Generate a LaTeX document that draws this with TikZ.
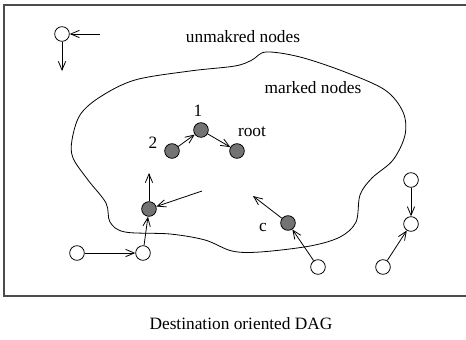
\documentclass[tikz,border=0pt]{standalone}
\usepackage{fontspec}
\setmainfont{Liberation Serif}
\usepackage{tikz}
\usetikzlibrary{arrows.meta}

\begin{document}
\begin{tikzpicture}[x=0.75pt, y=-0.75pt, line width=0.6pt,
	every node/.style={font=\fontsize{13}{15}\selectfont},
	wnode/.style={circle, draw, fill=white, inner sep=0pt, minimum size=11pt},
	gnode/.style={circle, draw, fill=black!55, inner sep=0pt, minimum size=11pt},
	arr/.style={-{Straight Barb[length=6.5pt, width=5.5pt]}}]
	\useasboundingbox (0,0) rectangle (466,339);
	\draw[line width=1.1pt, black!70] (4,5) rectangle (472,296);
	% region of marked nodes
	\draw plot[smooth cycle, tension=0.55] coordinates {(72,140) (80,115) (100,97) (135,80) (190,71) (235,66) (252,60) (266,52) (300,57) (345,72) (385,90) (403,112) (405,135) (393,160) (372,178) (360,195) (356,222) (340,237) (310,246) (260,252) (232,251) (205,240) (170,234) (125,232) (110,222) (106,203) (88,180) (73,158)};
	\node (unmarked) at (243,37) {unmakred nodes};
	\node (marked) at (313,88) {marked nodes};
	% nodes
	\node[wnode] (t) at (62,34) {};
	\node[gnode] (n1) at (201,130) {};
	\node[gnode] (n2) at (172,151) {};
	\node[gnode] (root) at (237,151) {};
	\node[gnode] (g) at (149,209) {};
	\node[gnode] (c) at (288,223) {};
	\node[wnode] (w1) at (77,253) {};
	\node[wnode] (w2) at (143,253) {};
	\node[wnode] (w3) at (318,267) {};
	\node[wnode] (w4) at (383,267) {};
	\node[wnode] (w5) at (411,180) {};
	\node[wnode] (w6) at (411,224) {};
	% labels
	\node (l1) at (198,111) {1};
	\node (l2) at (153,143) {2};
	\node (lroot) at (252,132) {root};
	\node (lc) at (263,227) {c};
	% free ends
	\coordinate (ta) at (100,34);
	\coordinate (tb) at (62,71);
	\coordinate (gu) at (149,173);
	\coordinate (gi) at (202,191);
	\coordinate (cu) at (253,196);
	% arrows
	\draw[arr] (ta) -- (t);
	\draw[arr] (t) -- (tb);
	\draw[arr] (n2) -- (n1);
	\draw[arr] (n1) -- (root);
	\draw[arr] (g) -- (gu);
	\draw[arr] (gi) -- (g);
	\draw[arr] (c) -- (cu);
	\draw[arr] (w1) -- (w2);
	\draw[arr] (w2) -- (g);
	\draw[arr] (w3) -- (c);
	\draw[arr] (w4) -- (w6);
	\draw[arr] (w5) -- (w6);
	\node (caption) at (241,324) {Destination oriented DAG};
\end{tikzpicture}
\end{document}
